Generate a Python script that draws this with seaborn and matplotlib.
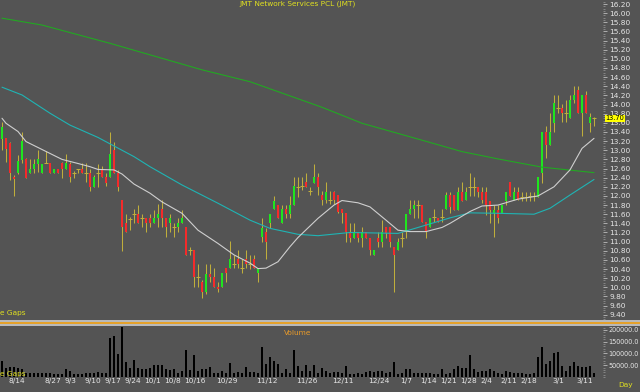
import matplotlib
matplotlib.use("Agg")
import matplotlib.pyplot as plt
import matplotlib.transforms as mtransforms
from matplotlib.patches import Rectangle
from matplotlib.lines import Line2D
from matplotlib.ticker import MultipleLocator, FixedLocator
import seaborn as sns
import pandas as pd

# daily candles, 8/10 .. 3/18 (trading-day index 0..148)
opens = [13.25, 13.26, 13.15, 12.41, 12.50, 12.79, 12.80, 12.50, 12.58, 12.70,
         12.50, 12.72, 12.71, 12.50, 12.60, 12.71, 12.58, 12.70, 12.51, 12.58,
         12.60, 12.51, 12.51, 12.20, 12.51, 12.60, 12.41, 12.41, 13.00, 12.50,
         11.91, 11.40, 11.49, 11.60, 11.60, 11.51, 11.51, 11.51, 11.40, 11.51,
         11.71, 11.51, 11.40, 11.33, 11.31, 11.40, 11.31, 10.82, 10.82, 10.22,
         10.12, 9.90, 10.29, 10.22, 10.01, 10.01, 10.42, 10.42, 10.51, 10.61,
         10.42, 10.61, 10.51, 10.61, 10.31, 11.11, 11.20, 11.40, 11.71, 11.80,
         11.40, 11.71, 11.60, 11.80, 12.19, 12.22, 12.31, 12.11, 12.29, 12.41,
         12.02, 11.91, 11.91, 12.09, 12.02, 11.71, 11.62, 11.18, 11.09, 11.22,
         11.09, 11.22, 11.09, 10.71, 11.09, 11.00, 11.31, 11.31, 10.89, 10.82,
         11.09, 11.22, 11.60, 11.71, 11.80, 11.80, 11.42, 11.31, 11.55, 11.51,
         11.55, 11.71, 12.02, 12.02, 11.69, 12.09, 11.91, 12.20, 12.20, 12.20,
         12.09, 12.09, 11.90, 11.62, 11.69, 11.62, 11.90, 12.31, 11.91, 12.09,
         11.98, 11.98, 12.00, 12.00, 11.98, 12.50, 13.41, 13.11, 13.59, 13.92,
         13.92, 13.81, 13.70, 14.10, 14.32, 13.81, 14.21, 13.60, 13.70]
highs = [13.62, 13.27, 13.17, 12.46, 12.90, 13.41, 12.82, 12.80, 12.80, 13.00,
         12.70, 12.99, 12.71, 12.60, 12.60, 12.75, 12.91, 12.75, 12.55, 12.60,
         12.71, 12.71, 12.60, 12.45, 12.70, 12.65, 12.50, 13.41, 13.19, 12.57,
         11.91, 11.60, 11.53, 11.71, 11.80, 11.60, 11.51, 11.60, 11.69, 11.82,
         11.91, 11.51, 11.60, 11.40, 11.52, 11.69, 11.33, 10.89, 10.82, 10.51,
         10.15, 10.51, 10.51, 10.42, 10.12, 10.31, 10.42, 11.01, 10.71, 10.82,
         10.61, 10.82, 10.71, 10.71, 10.42, 11.51, 11.29, 11.60, 12.00, 11.80,
         11.80, 11.80, 12.00, 12.41, 12.41, 12.41, 12.50, 12.20, 12.70, 12.50,
         12.11, 12.31, 12.11, 12.11, 12.02, 11.71, 11.62, 11.41, 11.41, 11.22,
         11.33, 11.22, 11.09, 10.82, 11.22, 11.47, 11.31, 11.31, 10.89, 11.09,
         11.22, 11.60, 11.91, 11.91, 11.91, 11.80, 11.42, 11.51, 11.71, 11.51,
         11.71, 12.09, 12.09, 12.02, 12.20, 12.31, 12.20, 12.50, 12.42, 12.20,
         12.20, 12.20, 11.90, 11.80, 11.80, 11.80, 12.09, 12.31, 12.20, 12.20,
         12.09, 12.09, 12.09, 12.09, 12.42, 13.41, 13.52, 13.81, 14.21, 14.21,
         14.01, 14.10, 14.21, 14.41, 14.41, 14.21, 14.30, 13.81, 13.72]
lows = [13.00, 12.75, 12.35, 12.00, 12.48, 12.71, 12.40, 12.50, 12.50, 12.53,
        12.50, 12.71, 12.50, 12.50, 12.50, 12.39, 12.58, 12.31, 12.40, 12.50,
        12.50, 12.31, 12.10, 12.20, 12.20, 12.41, 12.22, 12.41, 12.50, 12.11,
        10.80, 11.20, 11.25, 11.40, 11.40, 11.31, 11.22, 11.31, 11.40, 11.33,
        11.33, 11.11, 11.20, 11.11, 11.20, 11.40, 10.71, 10.71, 10.00, 10.00,
        9.76, 9.85, 10.12, 10.01, 9.90, 10.01, 10.12, 10.42, 10.42, 10.42,
        10.31, 10.42, 10.40, 10.42, 10.12, 11.00, 10.61, 11.29, 11.71, 11.51,
        11.40, 11.51, 11.51, 11.80, 11.98, 12.13, 12.20, 12.02, 12.29, 12.02,
        11.80, 11.84, 11.82, 11.82, 11.62, 11.40, 11.00, 11.00, 11.09, 11.00,
        10.89, 11.09, 10.71, 10.71, 10.89, 10.89, 11.09, 10.89, 9.90, 10.82,
        10.89, 11.09, 11.60, 11.51, 11.51, 11.42, 11.09, 11.31, 11.42, 11.42,
        11.42, 11.71, 11.62, 11.69, 11.69, 11.90, 11.91, 12.00, 12.00, 11.98,
        11.84, 11.58, 11.40, 11.11, 11.40, 11.62, 11.80, 12.00, 11.91, 11.91,
        11.90, 11.90, 11.90, 11.90, 11.98, 12.28, 12.82, 13.11, 13.41, 13.81,
        13.62, 13.62, 13.70, 14.03, 13.81, 13.31, 13.81, 13.41, 13.52]
closes = [13.51, 13.02, 12.50, 12.36, 12.76, 13.20, 12.40, 12.60, 12.70, 12.80,
          12.70, 12.72, 12.50, 12.60, 12.50, 12.60, 12.71, 12.41, 12.51, 12.58,
          12.50, 12.51, 12.20, 12.41, 12.51, 12.41, 12.29, 12.92, 12.50, 12.20,
          11.31, 11.20, 11.49, 11.60, 11.40, 11.51, 11.40, 11.40, 11.51, 11.60,
          11.51, 11.31, 11.51, 11.33, 11.40, 11.51, 10.71, 10.82, 10.22, 10.22,
          9.90, 10.29, 10.22, 10.01, 9.96, 10.31, 10.31, 10.61, 10.51, 10.51,
          10.42, 10.51, 10.51, 10.42, 10.42, 11.29, 11.00, 11.60, 11.90, 11.51,
          11.71, 11.60, 11.80, 12.22, 12.19, 12.22, 12.20, 12.11, 12.41, 12.20,
          11.91, 12.09, 11.91, 11.91, 11.65, 11.62, 11.22, 11.09, 11.22, 11.09,
          11.22, 11.09, 10.82, 10.82, 11.00, 11.22, 11.18, 11.00, 10.71, 11.00,
          11.09, 11.60, 11.71, 11.80, 11.80, 11.42, 11.22, 11.51, 11.55, 11.42,
          11.55, 12.02, 11.75, 11.69, 12.09, 11.90, 12.09, 12.20, 12.20, 12.09,
          11.91, 11.80, 11.69, 11.69, 11.51, 11.80, 12.09, 12.00, 12.09, 11.91,
          11.98, 11.98, 12.00, 12.00, 12.42, 13.41, 13.11, 13.41, 14.03, 13.92,
          13.81, 13.81, 14.11, 14.21, 13.81, 14.21, 13.81, 13.72, 13.70]
volumes = [69000, 40000, 43000, 43000, 40000, 32000, 17000, 17000, 17000, 17000,
           17000, 17000, 17000, 14000, 14000, 14000, 32000, 26000, 11000, 11000,
           11000, 17000, 17000, 17000, 21000, 17000, 17000, 164000, 174000, 97000,
           211000, 64000, 40000, 74000, 40000, 32000, 32000, 40000, 50000, 50000,
           50000, 36000, 29000, 32000, 17000, 26000, 114000, 29000, 93000, 26000,
           32000, 32000, 43000, 17000, 17000, 26000, 17000, 60000, 17000, 21000,
           17000, 43000, 21000, 21000, 17000, 128000, 57000, 86000, 69000, 57000,
           17000, 32000, 17000, 117000, 46000, 26000, 50000, 26000, 50000, 17000,
           40000, 26000, 17000, 21000, 21000, 17000, 46000, 14000, 14000, 17000,
           14000, 21000, 26000, 21000, 26000, 26000, 17000, 21000, 64000, 14000,
           17000, 32000, 36000, 17000, 17000, 19000, 19000, 17000, 14000, 14000,
           32000, 14000, 17000, 32000, 46000, 40000, 40000, 93000, 32000, 21000,
           26000, 26000, 32000, 26000, 17000, 14000, 26000, 21000, 19000, 17000,
           17000, 14000, 14000, 17000, 86000, 128000, 57000, 69000, 103000, 108000,
           46000, 26000, 46000, 64000, 46000, 43000, 43000, 46000, 17000]

# moving averages (day index, price)
ma_short_day = [0, 1, 4, 6, 12, 15, 19, 22, 24, 28, 30, 33, 37, 40, 45, 49, 54, 58,
                62, 64, 66, 69, 72, 74, 79, 83, 85, 89, 92, 96, 99, 102, 106, 110,
                112, 117, 120, 124, 129, 134, 138, 142, 145, 148]
ma_short = [13.70, 13.59, 13.41, 13.19, 12.93, 12.80, 12.71, 12.64, 12.58, 12.57,
            12.48, 12.26, 12.06, 11.87, 11.62, 11.25, 10.96, 10.71, 10.53, 10.41,
            10.42, 10.56, 10.89, 11.09, 11.51, 11.80, 11.90, 11.85, 11.76, 11.47,
            11.25, 11.22, 11.22, 11.31, 11.40, 11.66, 11.78, 11.80, 11.93, 12.00,
            12.20, 12.57, 13.04, 13.26]
ma_mid_day = [0, 5, 12, 17, 24, 33, 37, 45, 54, 62, 67, 74, 79, 87, 99, 104, 112,
              117, 124, 133, 137, 142, 148]
ma_mid = [14.38, 14.21, 13.81, 13.55, 13.28, 12.86, 12.64, 12.24, 11.84, 11.47,
          11.29, 11.16, 11.13, 11.20, 11.18, 11.31, 11.52, 11.63, 11.62, 11.60,
          11.73, 12.02, 12.36]
ma_long_day = [0, 10, 27, 50, 62, 80, 90, 105, 115, 124, 135, 148]
ma_long = [15.89, 15.74, 15.34, 14.76, 14.50, 13.94, 13.59, 13.22, 12.97, 12.81,
           12.63, 12.51]

date_ticks = [1, 10, 15, 20, 25, 30, 35, 40, 45, 53, 63, 73, 82, 91, 99, 104,
              109, 114, 119, 124, 129, 137, 143]
date_labels = ["8/14", "8/27", "9/3", "9/10", "9/17", "9/24", "10/1", "10/8",
               "10/16", "10/29", "11/12", "11/26", "12/11", "12/24", "1/7",
               "1/14", "1/21", "1/28", "2/4", "2/11", "2/18", "3/1", "3/11"]
vol_ticks = [50000, 100000, 150000, 200000]
vol_labels = ["50000.00", "100000.0", "150000.0", "200000.0"]
last_price = 13.70

BG = "#545454"
UP, DOWN, WICK = "#1ee61e", "#f52a2a", "#bfae3c"
TXT, YEL = "#e6e6e6", "#e0e020"

sns.set_style("dark", {"axes.facecolor": BG, "figure.facecolor": BG})
plt.rcParams["font.family"] = ["DejaVu Sans"]
FS = 5.3

W, H = 640, 392
fig = plt.figure(figsize=(W / 100, H / 100), dpi=100)


def box(x0, y0, x1, y1):
    # pixel box (top-left origin) -> figure fraction rect
    return [x0 / W, 1 - y1 / H, (x1 - x0) / W, (y1 - y0) / H]


ax_p = fig.add_axes(box(0, 0, 603, 320))
ax_v = fig.add_axes(box(0, 326, 603, 377))

df = pd.DataFrame({"open": opens, "high": highs, "low": lows, "close": closes,
                   "volume": volumes})
df["day"] = range(len(df))
up = df[df.close > df.open]
down = df[df.close < df.open]
flat = df[df.close == df.open]

# candles
ax_p.vlines(df.day, df.low, df.high, color=WICK, lw=0.75, zorder=2)
ax_p.bar(up.day, up.close - up.open, bottom=up.open, width=0.68, color=UP,
         linewidth=0, zorder=3)
ax_p.bar(down.day, down.open - down.close, bottom=down.close, width=0.68,
         color=DOWN, linewidth=0, zorder=3)
ax_p.hlines(flat.close, flat.day - 0.4, flat.day + 0.4, color=WICK, lw=0.75, zorder=3)

# moving averages
sns.lineplot(x=ma_long_day, y=ma_long, ax=ax_p, color="#22a822", lw=0.8, zorder=4)
sns.lineplot(x=ma_mid_day, y=ma_mid, ax=ax_p, color="#1fb4b4", lw=0.8, zorder=4)
sns.lineplot(x=ma_short_day, y=ma_short, ax=ax_p, color="#cfcfcf", lw=0.8, zorder=4)

ax_p.set_xlim(-0.5, 150.25)
ax_p.set_ylim(9.285, 16.288)
ax_p.set_xticks([])
ax_p.yaxis.tick_right()
price_ticks = [round(9.4 + 0.2 * k, 2) for k in range(35)]
ax_p.yaxis.set_major_locator(FixedLocator(price_ticks))
ax_p.yaxis.set_minor_locator(MultipleLocator(0.05))
ax_p.set_yticklabels([f"{p:.2f}" for p in price_ticks])
ax_p.tick_params(axis="y", which="major", length=3, width=0.6, color="#bdbdbd",
                 labelsize=FS, labelcolor=TXT, pad=1.5)
ax_p.tick_params(axis="y", which="minor", length=1.5, width=0.5, color="#9a9a9a")
ax_p.grid(False)
for s in ax_p.spines.values():
    s.set_visible(False)

# current price tag
ax_p.text(1.004, last_price, f"{last_price:.2f}", transform=ax_p.get_yaxis_transform(),
          ha="left", va="center", fontsize=4.8, color="black", clip_on=False,
          bbox=dict(boxstyle="square,pad=0.04", fc="#ffff00", ec="none"), zorder=10)

ax_p.text(0.0, 0.012, "e Gaps", transform=ax_p.transAxes, ha="left", va="bottom",
          fontsize=FS, color=YEL)
fig.text(298 / W, 1 - 0.3 / H, "JMT Network Services PCL (JMT)", ha="center",
         va="top", fontsize=FS, color=YEL)

# volume
ax_v.bar(df.day, df.volume, width=0.5, color="black", linewidth=0)
ax_v.set_xlim(-0.5, 150.25)
ax_v.set_ylim(0, 217000)
ax_v.yaxis.tick_right()
ax_v.set_yticks(vol_ticks, vol_labels)
ax_v.yaxis.set_minor_locator(MultipleLocator(10000))
ax_v.tick_params(axis="y", which="major", length=3, width=0.6, color="#bdbdbd",
                 labelsize=4.7, labelcolor=TXT, pad=1.0)
ax_v.tick_params(axis="y", which="minor", length=1.5, width=0.5, color="#9a9a9a")
ax_v.set_xticks(date_ticks, date_labels)
ax_v.tick_params(axis="x", length=9.5, width=0.6, color="#d8d8d8", direction="out",
                 labelsize=FS, labelcolor=TXT, pad=-8.6)
shift = mtransforms.ScaledTranslation(1.5 / 72, 0, fig.dpi_scale_trans)
for lbl in ax_v.get_xticklabels():
    lbl.set_horizontalalignment("left")
    lbl.set_verticalalignment("top")
    lbl.set_transform(lbl.get_transform() + shift)
ax_v.grid(False)
for s in ax_v.spines.values():
    s.set_visible(False)
ax_v.text(298 / 603, 0.93, "Volume", transform=ax_v.transAxes, ha="center",
          va="top", fontsize=FS, color="#e89a2a")
ax_v.text(0.0, 0.0, "e Gaps", transform=ax_v.transAxes, ha="left", va="bottom",
          fontsize=FS, color=YEL)

# panel separator
fig.add_artist(Rectangle((0, 1 - 326 / H), 1, 6 / H, transform=fig.transFigure,
                         fc="#b9b9b9", ec="none"))
fig.add_artist(Line2D([0, 1], [1 - 322.6 / H] * 2, transform=fig.transFigure,
                      color="#f29a00", lw=1.1))

fig.text(626 / W, 1 - 384.5 / H, "Day", ha="center", va="center", fontsize=FS,
         color=YEL)

fig.savefig("out.png", dpi=100, facecolor=BG)
